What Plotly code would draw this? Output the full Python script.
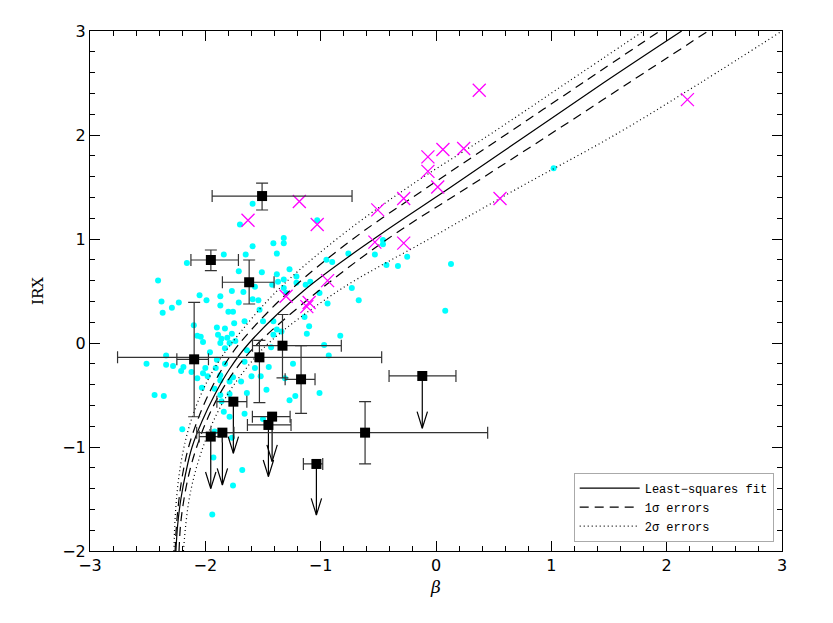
"""IRX - beta diagram: cyan sample, black squares with errors, magenta crosses, fit curves."""
import plotly.graph_objects as go

# --- fit curves (beta read at fixed IRX levels) ---
irx_levels = [-2.0, -1.75, -1.5, -1.25, -1.0, -0.75, -0.5, -0.25, 0.0, 0.5, 1.0, 1.5, 2.0, 2.5, 3.0]
fit_beta = [-2.255, -2.24, -2.212, -2.17, -2.115, -2.028, -1.92, -1.79, -1.62, -1.15, -0.54, 0.13, 0.79, 1.45, 2.13]
sig1_hi_beta = [-2.262, -2.25, -2.228, -2.195, -2.145, -2.07, -1.975, -1.855, -1.70, -1.27, -0.72, -0.07, 0.60, 1.27, 1.94]
sig1_lo_beta = [-2.228, -2.215, -2.185, -2.14, -2.075, -1.99, -1.88, -1.735, -1.54, -1.02, -0.42, 0.28, 0.98, 1.67, 2.36]
sig2_hi_beta = [-2.272, -2.265, -2.25, -2.225, -2.185, -2.125, -2.04, -1.925, -1.77, -1.38, -0.86, -0.24, 0.46, 1.13, 1.80]
sig2_lo_beta = [-2.19, -2.17, -2.14, -2.09, -2.02, -1.93, -1.81, -1.65, -1.45, -0.85, -0.06, 0.73, 1.55, 2.29, 3.0]

# --- comparison sample (cyan dots) ---
cyan_beta = [
    -1.70, -1.59, -1.41, -1.38, -1.84, -1.65, -2.16, -1.71, -1.51, -1.38,
    -2.41, -1.57, -1.77, -1.67, -2.05, -1.99, -1.87, -2.38, -2.23, -2.29,
    -1.87, -2.37, -1.71, -1.59, -1.54, -1.80, -1.76, -1.53, -1.66, -1.75,
    -2.10, -1.90, -1.83, -1.50, -1.41, -1.89, -1.77, -2.07, -2.04, -1.86,
    -1.81, -1.87, -2.02, -1.79, -1.74, -1.41, -1.38, -1.83, -1.64, -1.96,
    -2.34, -2.51, -2.34, -2.28, -2.19, -2.21, -2.12, -1.90, -1.91, -1.83,
    -1.66, -1.45, -1.57, -1.60, -1.52, -1.76, -1.69, -1.79, -1.98, -1.87,
    -2.03, -1.92, -1.64, -1.87, -1.79, -2.44, -2.36, -1.59, -1.32, -1.32,
    -1.27, -1.42, -1.32, -1.32, -1.21, -1.21, -1.09, -1.01, -0.95, -0.90,
    -0.76, -0.73, -0.67, -0.53, -0.46, -0.46, -0.43, -0.94, -1.10, -1.12,
    -0.97, -0.83, -0.93, -1.24, -1.03, 1.02, 0.13, -0.33, -0.25, -1.13,
    -1.14, -1.34, -1.43, -1.27, -1.31, -1.22, -2.00, -2.02, -2.07, -1.87,
    -1.01, -2.20, -1.84, -1.79, -1.66, -1.50, -1.92, -1.77, -1.93, -1.68,
    -1.76, -1.94, -1.47, -1.86, 0.08, -1.37, -1.30,
]
cyan_irx = [
    1.14, 0.93, 0.96, 0.86, 0.85, 0.85, 0.77, 0.69, 0.68, 0.66,
    0.60, 0.54, 0.50, 0.49, 0.46, 0.41, 0.45, 0.40, 0.39, 0.34,
    0.36, 0.29, 0.39, 0.42, 0.41, 0.30, 0.30, 0.32, 0.21, 0.19,
    0.17, 0.15, 0.14, 0.21, 0.21, 0.08, 0.09, 0.07, 0.06, 0.04,
    0.05, 0.00, 0.01, 0.00, 0.02, 0.08, 0.13, -0.05, -0.07, -0.09,
    -0.12, -0.20, -0.21, -0.22, -0.23, -0.27, -0.28, -0.16, -0.24, -0.20,
    -0.18, -0.23, -0.24, -0.32, -0.32, -0.33, -0.37, -0.37, -0.32, -0.31,
    -0.43, -0.44, -0.48, -0.50, -0.49, -0.50, -0.51, 1.34, 1.01, 0.96,
    0.71, 0.56, 0.61, 0.53, 0.64, 0.58, 0.59, 0.48, 0.80, 0.78,
    0.86, 0.53, 0.41, 0.85, 0.99, 0.95, 0.75, 0.38, 0.16, 0.09,
    -0.02, 0.07, -0.12, -0.20, 1.18, 1.68, 0.76, 0.74, 0.83, 0.56,
    0.25, 0.11, -0.04, -0.55, -0.34, -0.51, -0.24, -0.29, -0.34, -0.36,
    -0.48, -0.83, -0.66, -0.71, -0.68, -0.73, -0.85, -0.91, -1.10, -1.22,
    -1.37, -1.65, -0.45, -0.56, 0.31, 0.59, 0.48,
]

# --- magenta crosses ---
cross_beta = [0.375, 2.18, -0.07, 0.06, 0.24, -0.07, 0.015, -0.28, 0.555, -0.505,
              -1.185, -1.63, -1.03, -0.53, -0.28, -0.94, -1.10, -1.12, -1.30]
cross_irx = [2.43, 2.34, 1.79, 1.86, 1.87, 1.65, 1.50, 1.39, 1.39, 1.28,
             1.36, 1.18, 1.14, 0.97, 0.96, 0.60, 0.39, 0.35, 0.45]

# --- detections (black squares with error bars) ---
det_beta = [-1.508, -1.952, -1.620, -2.097, -1.531, -1.331, -1.170, -0.615]
det_irx = [1.413, 0.798, 0.584, -0.157, -0.138, -0.026, -0.349, -0.862]
det_bminus = [0.433, 0.173, 0.232, 0.150, 1.230, 0.260, 0.138, 1.460]
det_bplus = [0.780, 0.239, 0.216, 0.124, 1.060, 0.510, 0.121, 1.063]
det_iminus = [0.134, 0.103, 0.209, 0.552, 0.436, 0.310, 0.327, 0.301]
det_iplus = [0.125, 0.096, 0.214, 0.548, 0.163, 0.300, 0.323, 0.298]

# --- upper limits (black squares with arrows) ---
lim_beta = [-0.119, -1.037, -1.421, -1.453, -1.757, -1.852, -1.953]
lim_irx = [-0.317, -1.163, -0.708, -0.788, -0.564, -0.862, -0.900]
lim_bminus = [0.288, 0.113, 0.171, 0.182, 0.143, 0.100, 0.100]
lim_bplus = [0.292, 0.055, 0.156, 0.196, 0.117, 0.100, 0.100]
lim_tip = [-0.82, -1.654, -1.14, -1.285, -1.06, -1.365, -1.40]

HEAD_DX, HEAD_DY = 0.045, 0.16   # half width / length of the open arrow heads

fig = go.Figure()

fig.add_trace(go.Scatter(x=cyan_beta, y=cyan_irx, mode="markers", showlegend=False,
                         marker=dict(color="#00ffff", size=6, line=dict(width=0))))

curve_style = dict(mode="lines", line_shape="spline")
fig.add_trace(go.Scatter(x=fit_beta, y=irx_levels, name="Least\u2212squares fit",
                         line=dict(color="black", width=1.2), **curve_style))
fig.add_trace(go.Scatter(x=sig1_hi_beta, y=irx_levels, name="1\u03c3 errors",
                         line=dict(color="black", width=1.2, dash="9px,6px"), **curve_style))
fig.add_trace(go.Scatter(x=sig1_lo_beta, y=irx_levels, showlegend=False,
                         line=dict(color="black", width=1.2, dash="9px,6px"), **curve_style))
fig.add_trace(go.Scatter(x=sig2_hi_beta, y=irx_levels, name="2\u03c3 errors",
                         line=dict(color="black", width=1.2, dash="1px,3px"), **curve_style))
fig.add_trace(go.Scatter(x=sig2_lo_beta, y=irx_levels, showlegend=False,
                         line=dict(color="black", width=1.2, dash="1px,3px"), **curve_style))

fig.add_trace(go.Scatter(x=cross_beta, y=cross_irx, mode="markers", showlegend=False,
                         marker=dict(symbol="x-thin", size=13, line=dict(color="#ff00ff", width=1.3))))

# upper-limit arrows: shaft from the square down to the tip, plus an open "V" head
arr_x, arr_y = [], []
for b, y0, t in zip(lim_beta, lim_irx, lim_tip):
    arr_x += [b, b, None, b - HEAD_DX, b, b + HEAD_DX, None]
    arr_y += [y0, t, None, t + HEAD_DY, t, t + HEAD_DY, None]
fig.add_trace(go.Scatter(x=arr_x, y=arr_y, mode="lines", showlegend=False,
                         line=dict(color="black", width=1.2)))

err_style = dict(type="data", symmetric=False, color="#333333", thickness=1.2, width=6)
fig.add_trace(go.Scatter(
    x=det_beta, y=det_irx, mode="markers", showlegend=False,
    marker=dict(symbol="square", size=10, color="black"),
    error_x=dict(array=det_bplus, arrayminus=det_bminus, **err_style),
    error_y=dict(array=det_iplus, arrayminus=det_iminus, **err_style)))
fig.add_trace(go.Scatter(
    x=lim_beta, y=lim_irx, mode="markers", showlegend=False,
    marker=dict(symbol="square", size=10, color="black"),
    error_x=dict(array=lim_bplus, arrayminus=lim_bminus, **err_style)))

axis_common = dict(showline=True, linecolor="black", linewidth=1, mirror="allticks",
                   ticks="inside", ticklen=10, tickwidth=1, tickcolor="black",
                   showgrid=False, zeroline=False,
                   tickfont=dict(family="DejaVu Sans", size=16, color="black"),
                   minor=dict(dtick=0.2, ticks="inside", ticklen=5, tickcolor="black", showgrid=False))

fig.update_xaxes(range=[-3, 3], dtick=1, tick0=0,
                 title=dict(text="<i>\u03b2</i>", font=dict(family="DejaVu Serif", size=17, color="black"),
                            standoff=6),
                 **axis_common)
fig.update_yaxes(range=[-2, 3], dtick=1, tick0=0,
                 title=dict(text="IRX", font=dict(family="DejaVu Serif", size=15, color="black"),
                            standoff=14),
                 **axis_common)

# page body has an 8px margin, so the figure is shrunk to keep the plot box in place
fig.update_layout(
    width=817, height=607,
    margin=dict(l=82, r=43, t=23, b=64),
    plot_bgcolor="white", paper_bgcolor="white",
    legend=dict(x=0.988, y=0.018, xanchor="right", yanchor="bottom",
                bordercolor="#aaaaaa", borderwidth=1, bgcolor="white",
                font=dict(family="Liberation Mono", size=12, color="black"),
                tracegroupgap=0, itemwidth=60),
)

fig.write_html("out.html")
